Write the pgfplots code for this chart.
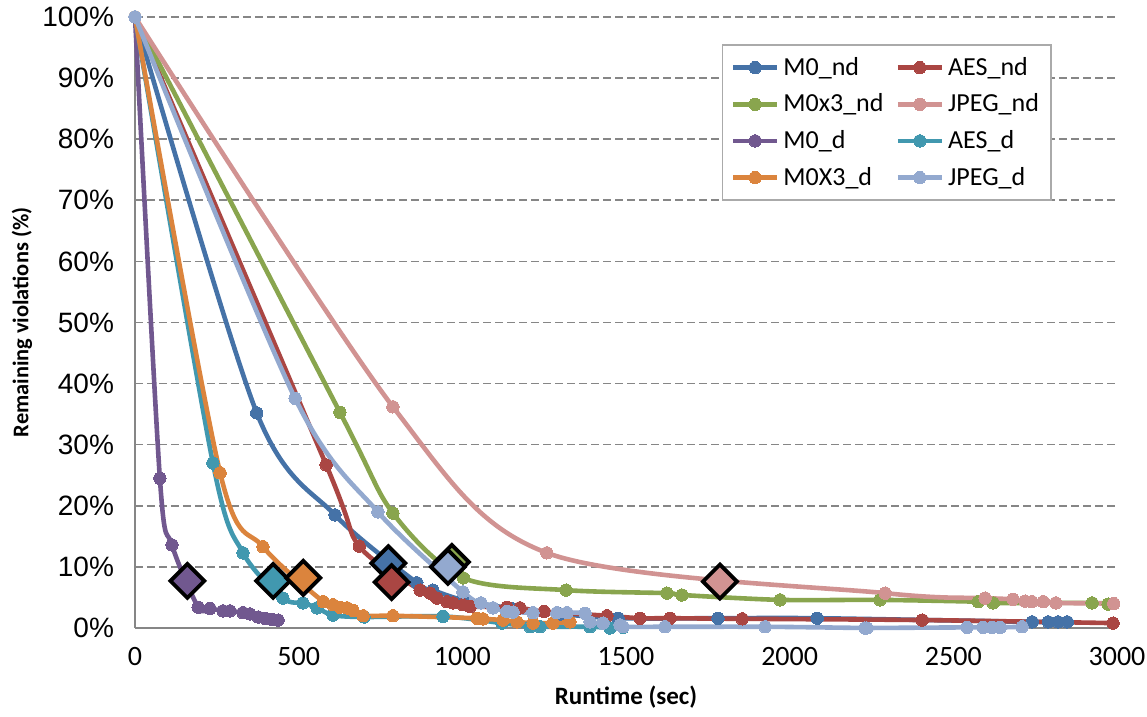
\documentclass[border=0pt]{standalone}
\usepackage{fontspec}
\setmainfont{Carlito}
\newfontfamily\arialf{Liberation Sans}
\usepackage{pgfplots}
\pgfplotsset{compat=1.18}
\definecolor{cMOnd}{HTML}{4572A7}
\definecolor{cAESnd}{HTML}{AA4643}
\definecolor{cMxnd}{HTML}{89A54E}
\definecolor{cJPnd}{HTML}{D19392}
\definecolor{cMOd}{HTML}{71588F}
\definecolor{cAESd}{HTML}{4198AF}
\definecolor{cMxd}{HTML}{DB843D}
\definecolor{cJPd}{HTML}{93A9CF}
\definecolor{gridc}{HTML}{868686}
\pgfplotsset{
  ser/.style={color=#1, line width=2.3pt, smooth, tension=0.5, mark=*, mark size=3.1pt, mark options={solid, fill=#1, draw=#1, line width=0pt}},
  dia/.style={only marks, mark=square*, mark size=6pt, mark options={rotate=45, fill=#1, draw=black, line width=1.9pt}, forget plot},
}
\begin{document}
\begin{tikzpicture}
\useasboundingbox (-67.5pt,-44.5pt) rectangle (506pt,314pt);
\begin{axis}[
  scale only axis, width=491pt, height=305.5pt,
  xmin=0, xmax=3000, ymin=0, ymax=100,
  clip=false,
  axis lines*=left,
  axis line style={-, draw=gridc, line width=1pt},
  tick style={draw=none},
  ytick={0,10,...,100},
  yticklabels={0\%,10\%,20\%,30\%,40\%,50\%,60\%,70\%,80\%,90\%,100\%},
  xtick={0,500,...,3000},
  xticklabels={0,500,1000,1500,2000,2500,3000},
  yticklabel style={font=\arialf\fontsize{14}{16}\selectfont, anchor=east, xshift=-7pt},
  xticklabel style={font=\fontsize{14}{16}\selectfont, anchor=north, yshift=-6pt},
  ymajorgrids,
  grid style={draw=gridc, line width=0.8pt, dash pattern=on 4pt off 2pt},
  xlabel={Runtime (sec)},
  ylabel={Remaining violations (\%)},
  xlabel style={font=\bfseries\fontsize{12.5}{14}\selectfont, at={(rel axis cs:0.5,0)}, anchor=center, yshift=-34.5pt},
  ylabel style={font=\bfseries\fontsize{11.2}{14}\selectfont, at={(rel axis cs:0,0.5)}, anchor=center, yshift=56.5pt},
  legend columns=2,
  legend cell align=left,
  legend style={at={(0.598,0.955)}, anchor=north west, draw=gridc!70, line width=0.6pt, fill=white,
    font=\fontsize{13}{16}\selectfont, inner xsep=4pt, inner ysep=4pt,
    /tikz/every even column/.append style={column sep=4pt}, row sep=3.8pt},
  legend image code/.code={\draw[mark repeat=2,mark phase=2] plot coordinates {(0pt,0pt)(11pt,0pt)(22pt,0pt)};},
]
% M0_nd
\addplot[ser=cMOnd] coordinates {(0,100) (372,35.2) (611,18.5) (861,7.4) (910,6.2) (1000,4.6) (1150,3.2) (1300,2.3) (1476,1.6) (1781,1.6) (2084,1.6) (2741,1.0) (2790,1.0) (2820,1.0) (2848,1.0)};
\addlegendentry{M0\_nd}
% AES_nd
\addplot[ser=cAESnd] coordinates {(0,100) (584,26.7) (685,13.4) (871,6.2) (901,5.7) (922,4.9) (953,4.3) (972,4.1) (1002,3.8) (1024,3.5) (1136,3.4) (1176,3.3) (1250,2.7) (1442,2.0) (1543,1.6) (1635,1.6) (1855,1.5) (2405,1.3) (2988,0.8)};
\addlegendentry{AES\_nd}
% M0x3_nd
\addplot[ser=cMxnd] coordinates {(0,100) (626,35.3) (788,18.8) (1003,8.2) (1317,6.2) (1625,5.7) (1671,5.4) (1971,4.6) (2276,4.6) (2576,4.3) (2622,4.1) (2924,4.1) (2973,3.9)};
\addlegendentry{M0x3\_nd}
% JPEG_nd
\addplot[ser=cJPnd] coordinates {(0,100) (788,36.2) (1258,12.3) (2292,5.7) (2597,4.9) (2682,4.7) (2719,4.4) (2740,4.3) (2775,4.3) (2813,4.1) (2990,4.0)};
\addlegendentry{JPEG\_nd}
% M0_d
\addplot[ser=cMOd] coordinates {(0,100) (76,24.5) (113,13.6) (193,3.4) (229,3.2) (269,2.8) (290,2.8) (330,2.5) (351,2.3) (376,1.8) (397,1.6) (418,1.4) (437,1.3)};
\addlegendentry{M0\_d}
% AES_d
\addplot[ser=cAESd] coordinates {(0,100) (238,27) (330,12.3) (452,4.9) (513,4.1) (556,3.3) (605,2.1) (700,1.8) (941,1.9) (1121,0.8) (1207,0.2) (1237,0.2) (1390,0.2) (1451,0.0) (1491,0.1)};
\addlegendentry{AES\_d}
% M0X3_d
\addplot[ser=cMxd] coordinates {(0,100) (260,25.4) (391,13.3) (575,4.3) (605,3.8) (626,3.4) (648,3.3) (666,2.9) (697,2.0) (788,2.0) (1045,1.6) (1063,1.5) (1124,1.3) (1167,1.0) (1216,0.8) (1277,0.8) (1329,1.0)};
\addlegendentry{M0X3\_d}
% JPEG_d
\addplot[ser=cJPd] coordinates {(0,100) (489,37.6) (742,19.0) (1002,5.9) (1057,4.1) (1094,3.3) (1136,2.7) (1155,2.6) (1216,2.5) (1289,2.5) (1320,2.5) (1375,2.4) (1390,1.0) (1430,0.8) (1482,0.5) (1491,0.2) (1619,0.2) (1925,0.2) (2230,0.0) (2236,0.0) (2542,0.1) (2591,0.1) (2618,0.1) (2643,0.1) (2710,0.2)};
\addlegendentry{JPEG\_d}
% threshold diamonds
\addplot[dia=cMOnd] coordinates {(774,10.6)};
\addplot[dia=cAESnd] coordinates {(784,7.5)};
\addplot[dia=cMxnd] coordinates {(968,10.8)};
\addplot[dia=cJPnd] coordinates {(1787,7.6)};
\addplot[dia=cMOd] coordinates {(160,7.7)};
\addplot[dia=cAESd] coordinates {(422,7.7)};
\addplot[dia=cMxd] coordinates {(514,8.2)};
\addplot[dia=cJPd] coordinates {(956,10.0)};
\end{axis}
\end{tikzpicture}
\end{document}
